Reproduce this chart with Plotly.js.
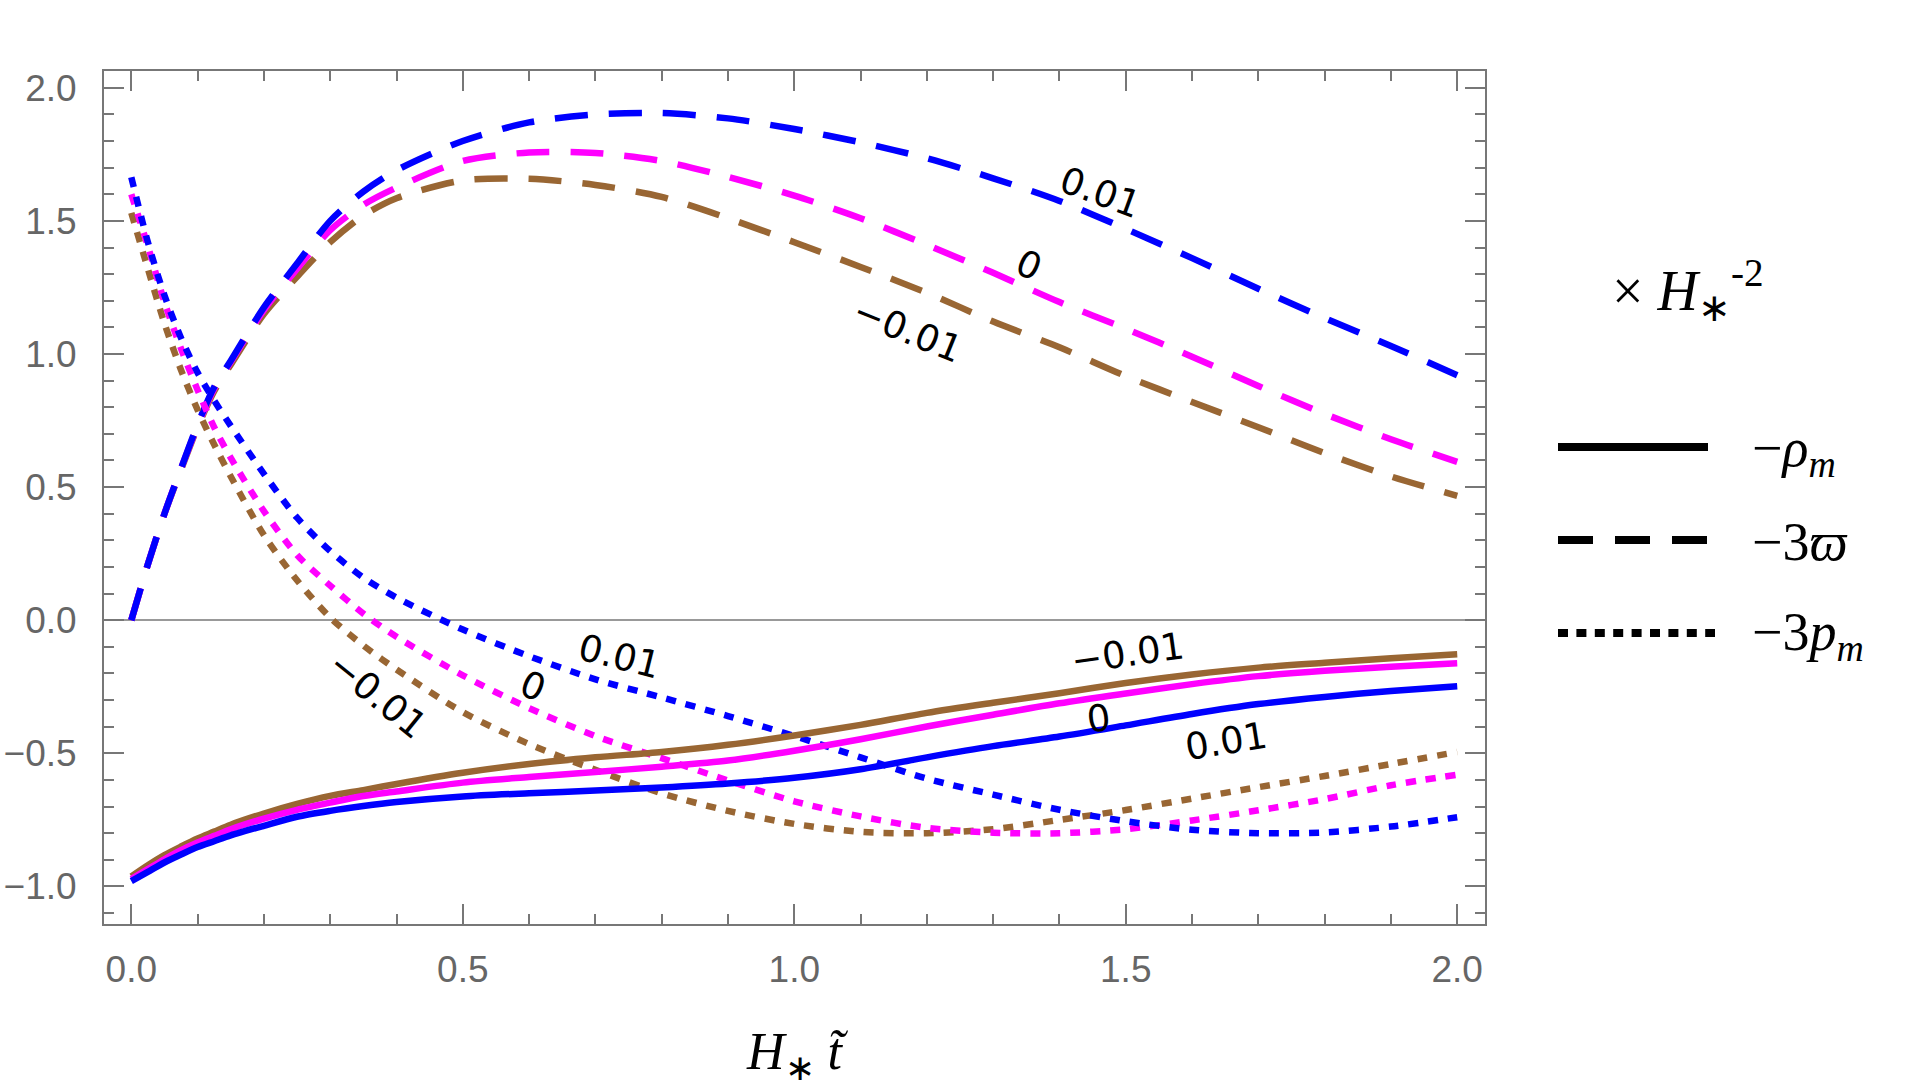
<!DOCTYPE html>
<html>
<head>
<meta charset="utf-8">
<script src="https://cdn.plot.ly/plotly-3.0.1.min.js"></script>
<style>html,body{margin:0;padding:0;background:#fff;}#chart{width:1905px;height:1088px;}</style>
</head>
<body>
<div id="chart"></div>
<script>
// ---- data ----
const xs = [0, 0.025, 0.05, 0.075, 0.1, 0.125, 0.15, 0.2, 0.25, 0.3, 0.35, 0.4, 0.5, 0.6, 0.7, 0.8, 0.9, 1.0, 1.1, 1.2, 1.3, 1.4, 1.5, 1.6, 1.7, 1.8, 1.9, 2.0];

// -3 varpi (dashed)
const varpiBlue    = [0, 0.21, 0.40, 0.57, 0.735, 0.876, 0.975, 1.175, 1.34, 1.50, 1.61, 1.69, 1.80, 1.87, 1.90, 1.905, 1.885, 1.845, 1.795, 1.735, 1.66, 1.575, 1.47, 1.36, 1.245, 1.135, 1.03, 0.92];
const varpiMagenta = [0, 0.21, 0.40, 0.57, 0.73, 0.87, 0.97, 1.165, 1.32, 1.465, 1.56, 1.625, 1.725, 1.757, 1.755, 1.725, 1.665, 1.595, 1.51, 1.41, 1.305, 1.195, 1.095, 0.99, 0.88, 0.775, 0.68, 0.595];
const varpiBrown   = [0, 0.21, 0.40, 0.565, 0.725, 0.86, 0.96, 1.15, 1.29, 1.42, 1.52, 1.585, 1.652, 1.658, 1.635, 1.59, 1.51, 1.42, 1.327, 1.23, 1.122, 1.025, 0.917, 0.82, 0.725, 0.628, 0.54, 0.467];

// -3 p_m (dotted)
const pBlue    = [1.664, 1.42, 1.22, 1.06, 0.93, 0.825, 0.73, 0.55, 0.385, 0.26, 0.16, 0.085, -0.035, -0.135, -0.222, -0.29, -0.36, -0.435, -0.515, -0.595, -0.655, -0.712, -0.755, -0.787, -0.80, -0.797, -0.775, -0.74];
const pMagenta = [1.60, 1.405, 1.195, 1.02, 0.865, 0.725, 0.61, 0.41, 0.245, 0.13, 0.025, -0.062, -0.207, -0.33, -0.435, -0.518, -0.602, -0.68, -0.737, -0.78, -0.798, -0.80, -0.785, -0.752, -0.714, -0.672, -0.62, -0.58];
const pBrown   = [1.53, 1.32, 1.115, 0.94, 0.79, 0.66, 0.54, 0.32, 0.15, 0.01, -0.095, -0.185, -0.345, -0.465, -0.562, -0.65, -0.716, -0.765, -0.795, -0.80, -0.785, -0.75, -0.713, -0.67, -0.627, -0.585, -0.54, -0.495];

// -rho_m (solid)
const rhoBlue    = [-0.98, -0.945, -0.91, -0.88, -0.852, -0.83, -0.808, -0.772, -0.738, -0.716, -0.698, -0.683, -0.662, -0.650, -0.640, -0.628, -0.613, -0.592, -0.56, -0.515, -0.473, -0.437, -0.395, -0.352, -0.315, -0.288, -0.266, -0.248];
const rhoMagenta = [-0.972, -0.935, -0.898, -0.864, -0.835, -0.81, -0.785, -0.745, -0.712, -0.685, -0.66, -0.643, -0.61, -0.589, -0.57, -0.55, -0.527, -0.49, -0.447, -0.399, -0.355, -0.312, -0.275, -0.24, -0.21, -0.19, -0.175, -0.162];
const rhoBrown   = [-0.962, -0.92, -0.882, -0.85, -0.82, -0.794, -0.768, -0.726, -0.69, -0.66, -0.638, -0.615, -0.573, -0.54, -0.515, -0.495, -0.468, -0.433, -0.393, -0.348, -0.31, -0.274, -0.236, -0.204, -0.178, -0.16, -0.143, -0.128];

// curve labels
const labelTexts  = ["0.01", "0", "\u22120.01", "0.01", "0", "\u22120.01", "\u22120.01", "0", "0.01"];
const labelX      = [1.461, 1.354, 1.171, 0.736, 0.606, 0.372, 1.503, 1.460, 1.651];
const labelY      = [1.607, 1.333, 1.089, -0.138, -0.250, -0.281, -0.124, -0.369, -0.457];
const labelAngles = [20, 24, 22, 14, 22, 39, -8, -7, -9];

const legendNames = ["\u2212<i>\u03c1</i><sub><i>m</i></sub>", "\u22123<i>\u03d6</i>", "\u22123<i>p</i><sub><i>m</i></sub>"];

// ---- styling ----
const BLUE = "#0000ff", MAG = "#ff00ff", BROWN = "#996633";
const LW = 6.5;
const DASH = "33px,21px";
const DOT = "10px,10px";

function tr(y, color, dash) {
  return {x: xs, y: y, type: "scatter", mode: "lines", hoverinfo: "skip", showlegend: false,
          line: {color: color, width: LW, dash: dash, shape: "spline", smoothing: 0.8}};
}

const traces = [
  tr(varpiBrown, BROWN, DASH), tr(varpiMagenta, MAG, DASH), tr(varpiBlue, BLUE, DASH),
  tr(pBrown, BROWN, DOT), tr(pMagenta, MAG, DOT), tr(pBlue, BLUE, DOT),
  tr(rhoBrown, BROWN, "solid"), tr(rhoMagenta, MAG, "solid"), tr(rhoBlue, BLUE, "solid")
];

// plot area in pixels
const L = 104, R = 420, T = 71, B = 164, W = 1905, H = 1088;
const pw = W - L - R, ph = H - T - B;
const px = v => (v - L) / pw;
const py = v => (H - B - v) / ph;

const annotations = labelTexts.map((t, i) => ({
  x: labelX[i], y: labelY[i], xref: "x", yref: "y", text: t, showarrow: false,
  textangle: labelAngles[i], xanchor: "center", yanchor: "middle",
  font: {family: "DejaVu Sans, Verdana, sans-serif", size: 37, color: "#000"}
}));

const serif = "Liberation Serif, Times New Roman, serif";
annotations.push({x: px(1610), y: py(290), xref: "paper", yref: "paper", xanchor: "left", yanchor: "middle",
  showarrow: false, text: "\u00d7 <i>H</i><sub>\u2217</sub><sup>-2</sup>", font: {family: serif, size: 56, color: "#000"}});
const legY = [451, 542, 635];
legendNames.forEach((t, i) => {
  annotations.push({x: px(1750), y: py(legY[i]), xref: "paper", yref: "paper", xanchor: "left", yanchor: "middle",
    showarrow: false, text: t, font: {family: serif, size: 54, color: "#000"}});
});

const shapes = [
  {type: "line", xref: "paper", yref: "paper", x0: px(1558), x1: px(1708), y0: py(447), y1: py(447), line: {color: "#000", width: 8}},
  {type: "line", xref: "paper", yref: "paper", x0: px(1558), x1: px(1707), y0: py(540), y1: py(540), line: {color: "#000", width: 8, dash: "35px,22px"}},
  {type: "line", xref: "paper", yref: "paper", x0: px(1558), x1: px(1715), y0: py(633), y1: py(633), line: {color: "#000", width: 8, dash: "10px,8.4px"}}
];

const axCommon = {
  showline: true, linecolor: "#777", linewidth: 2, mirror: "allticks",
  ticks: "inside", ticklen: 20, tickwidth: 2, tickcolor: "#777",
  tick0: 0, dtick: 0.5, tickformat: ".1f", showgrid: false,
  minor: {ticks: "inside", ticklen: 10, tickwidth: 2, tickcolor: "#777", dtick: 0.1, showgrid: false},
  tickfont: {family: "Liberation Sans, Arial, sans-serif", size: 37, color: "#666"}
};

const layout = {
  width: W, height: H, margin: {l: L, r: R, t: T, b: B, pad: 0},
  paper_bgcolor: "#fff", plot_bgcolor: "#fff", showlegend: false,
  xaxis: Object.assign({}, axCommon, {range: [-0.0412, 2.0419], zeroline: false, ticklabelstandoff: 12,
    title: {text: "<i>H</i><sub>\u2217</sub> <i>t\u0303</i>", font: {family: serif, size: 52, color: "#000"}, standoff: 46}}),
  yaxis: Object.assign({}, axCommon, {range: [-1.141, 2.063], zeroline: true, zerolinecolor: "#999", zerolinewidth: 1.5, ticklabelstandoff: 18}),
  annotations: annotations, shapes: shapes
};

Plotly.newPlot("chart", traces, layout, {staticPlot: true, displayModeBar: false});
</script>
</body>
</html>
